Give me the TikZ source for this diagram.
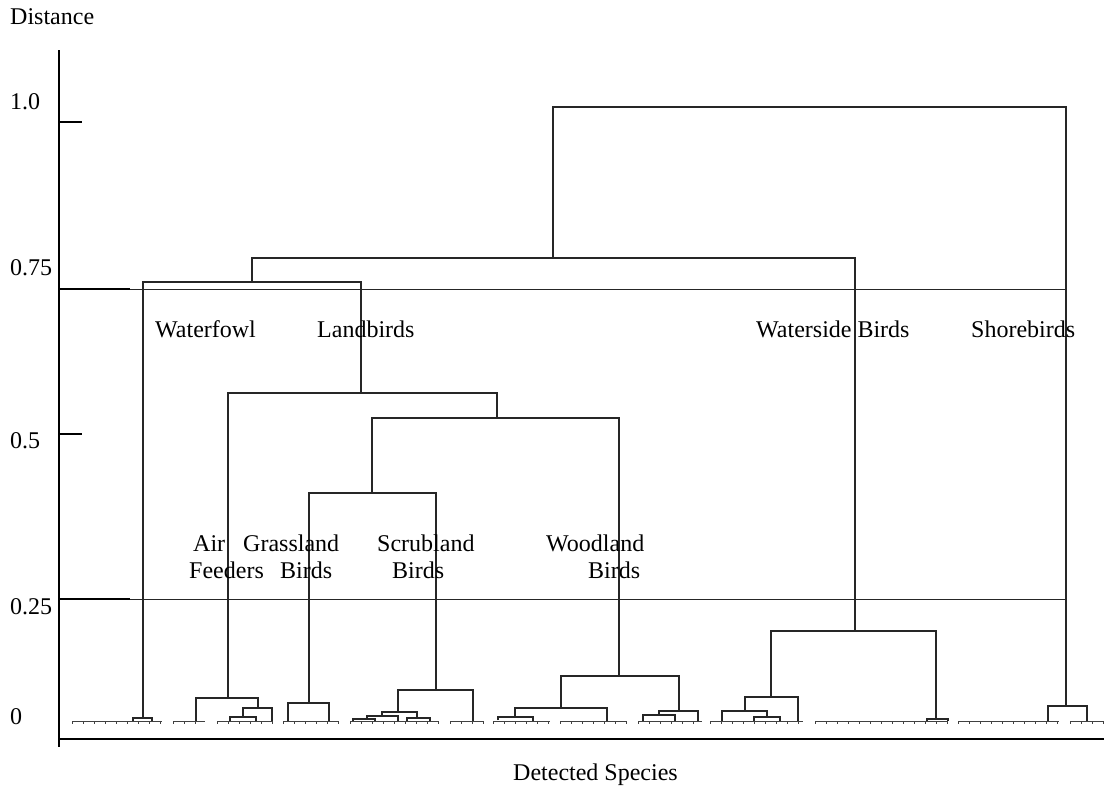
\documentclass[tikz,border=0pt]{standalone}
\usepackage{fontspec}
\setmainfont{Liberation Serif}
% one dendrogram link: left leg bottom (x1,y1), joint height y, right leg bottom (x2,y2)
\newcommand\dlink[5]{\draw[link] (#1,#2) |- (#3,#4) -- (#3,#5);}
\begin{document}
\begin{tikzpicture}[x=1pt,y=-1pt,
  link/.style={line width=1.1pt, draw=black!85},
  leaf/.style={line width=0.8pt, draw=black!75},
  axis/.style={line width=2pt, draw=black},
  guide/.style={line width=1pt, draw=black!85},
  lbl/.style={inner sep=0pt, anchor=base west, font=\fontsize{24}{27}\selectfont},
]
\useasboundingbox (0,0) rectangle (1104,790);

% axes
\coordinate (ytop) at (59,50);
\coordinate (ybot) at (59,747);
\coordinate (xorg) at (59,739);
\coordinate (xend) at (1104,739);
\draw[axis] (ytop) -- (ybot);
\draw[axis] (xorg) -- (xend);

% ticks and the two cut levels
\draw[axis] (59,122) -- (82,122);
\draw[axis] (59,434) -- (82,434);
\draw[axis] (59,289) -- (130,289);
\draw[axis] (59,599) -- (130,599);
\draw[guide] (130,289) -- (1066,289);
\draw[guide] (130,599) -- (1066,599);

% upper tree
\dlink{553}{258}{1066}{107}{706}
\dlink{252}{282}{855}{258}{631}
\dlink{143}{718}{361}{282}{393}
\dlink{228}{698}{497}{393}{418}
\dlink{372}{493}{619}{418}{676}
\dlink{309}{703}{436}{493}{690}
% waterside birds
\dlink{771}{697}{936}{631}{719}
\dlink{745}{711}{798}{697}{721}
\dlink{722}{721}{767}{711}{717}
\dlink{754}{721}{780}{717}{721}
\dlink{927}{721}{948}{719}{721}
% shorebirds
\dlink{1048}{721}{1087}{706}{721}
% air feeders
\dlink{196}{721}{258}{698}{708}
\dlink{243}{717}{272}{708}{721}
\dlink{230}{721}{256}{717}{721}
% grassland birds
\dlink{288}{721}{329}{703}{721}
% scrubland birds
\dlink{398}{712}{473}{690}{721}
\dlink{382}{716}{417}{712}{718}
\dlink{367}{719}{398}{716}{721}
\dlink{407}{721}{430}{718}{721}
\dlink{353}{721}{375}{719}{721}
% woodland birds
\dlink{561}{708}{679}{676}{711}
\dlink{515}{717}{607}{708}{721}
\dlink{498}{720}{533}{717}{721}
\dlink{659}{715}{698}{711}{721}
\dlink{643}{721}{675}{715}{721}
% waterfowl
\dlink{133}{721}{152}{718}{721}

% species leaves
\foreach \a/\b in {72/162, 173/205, 217/272, 283/338, 350/438, 450/483,
                   493/550, 560/627, 638/702, 710/803, 815/948, 958/1059, 1070/1104} {
  \draw[leaf] (\a,721) -- (\b,721);
  \pgfmathtruncatemacro\n{(\b-\a)/11}
  \foreach \k in {0,...,\n} \draw[leaf] (\a+11*\k,721) -- ++(0,3);
}

% axis labels
\node[lbl] (dist) at (10,24) {Distance};
\node[lbl] (t100) at (10,109) {1.0};
\node[lbl] (t075) at (10,275) {0.75};
\node[lbl] (t050) at (10,448) {0.5};
\node[lbl] (t025) at (10,614) {0.25};
\node[lbl] (t000) at (10,724) {0};
\node[lbl] (spec) at (513,780) {Detected Species};

% group labels
\node[lbl] (wfowl) at (155,337) {Waterfowl};
\node[lbl] (lbird) at (317,337) {Landbirds};
\node[lbl] (wside) at (756,337) {Waterside Birds};
\node[lbl] (shore) at (971,337) {Shorebirds};
\node[lbl] (airA) at (193,551) {Air};
\node[lbl] (airB) at (189,578) {Feeders};
\node[lbl] (grsA) at (243,551) {Grassland};
\node[lbl] (grsB) at (280,578) {Birds};
\node[lbl] (scrA) at (377,551) {Scrubland};
\node[lbl] (scrB) at (392,578) {Birds};
\node[lbl] (wodA) at (546,551) {Woodland};
\node[lbl] (wodB) at (588,578) {Birds};
\end{tikzpicture}
\end{document}
